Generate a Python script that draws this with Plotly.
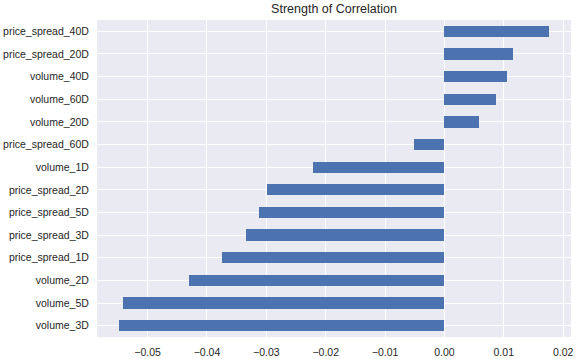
import plotly.graph_objects as go

features = ["volume_3D", "volume_5D", "volume_2D", "price_spread_1D", "price_spread_3D",
            "price_spread_5D", "price_spread_2D", "volume_1D", "price_spread_60D",
            "volume_20D", "volume_60D", "volume_40D", "price_spread_20D", "price_spread_40D"]
correlations = [-0.0549, -0.0541, -0.0431, -0.0374, -0.0335,
                -0.0312, -0.0299, -0.0222, -0.0052,
                0.0058, 0.0087, 0.0105, 0.0116, 0.0177]
x_tick_values = [-0.05, -0.04, -0.03, -0.02, -0.01, 0.00, 0.01, 0.02]
x_tick_labels = ["\u22120.05", "\u22120.04", "\u22120.03", "\u22120.02", "\u22120.01", "0.00", "0.01", "0.02"]
title_text = "Strength of Correlation"

span = max(correlations) - min(correlations)
xr = [min(correlations) - 0.05 * span, max(correlations) + 0.05 * span]

fig = go.Figure(go.Bar(
    x=correlations, y=list(range(len(features))), orientation="h",
    width=0.5, marker=dict(color="#4C72B0", line=dict(width=0)),
))
fig.update_layout(
    width=580, height=359,
    margin=dict(l=97, r=9, t=20, b=22, autoexpand=False),
    paper_bgcolor="white", plot_bgcolor="#EAEAF2",
    font=dict(family="Liberation Sans, Arial, sans-serif", size=10.5, color="#262626"),
    title=dict(text=title_text, x=(97 + 571) / 2 / 580, xanchor="center",
               y=1 - 9 / 359, yanchor="middle", font=dict(size=12.5, color="#262626")),
    showlegend=False, bargap=0,
)
fig.update_xaxes(range=xr, tickvals=x_tick_values, ticktext=x_tick_labels,
                 showgrid=True, gridcolor="white", gridwidth=1, zeroline=False,
                 ticks="outside", ticklen=5, tickcolor="rgba(0,0,0,0)", showline=False,
                 automargin=False)
fig.update_yaxes(range=[-0.5, len(features) - 0.5], tickvals=list(range(len(features))),
                 ticktext=features, showgrid=True, gridcolor="white", gridwidth=1,
                 zeroline=False, ticks="outside", ticklen=5, tickcolor="rgba(0,0,0,0)",
                 showline=False, automargin=False)
fig.write_html("out.html", config={"displayModeBar": False},
               post_script="document.body.style.margin='0';document.body.style.overflow='hidden';")
